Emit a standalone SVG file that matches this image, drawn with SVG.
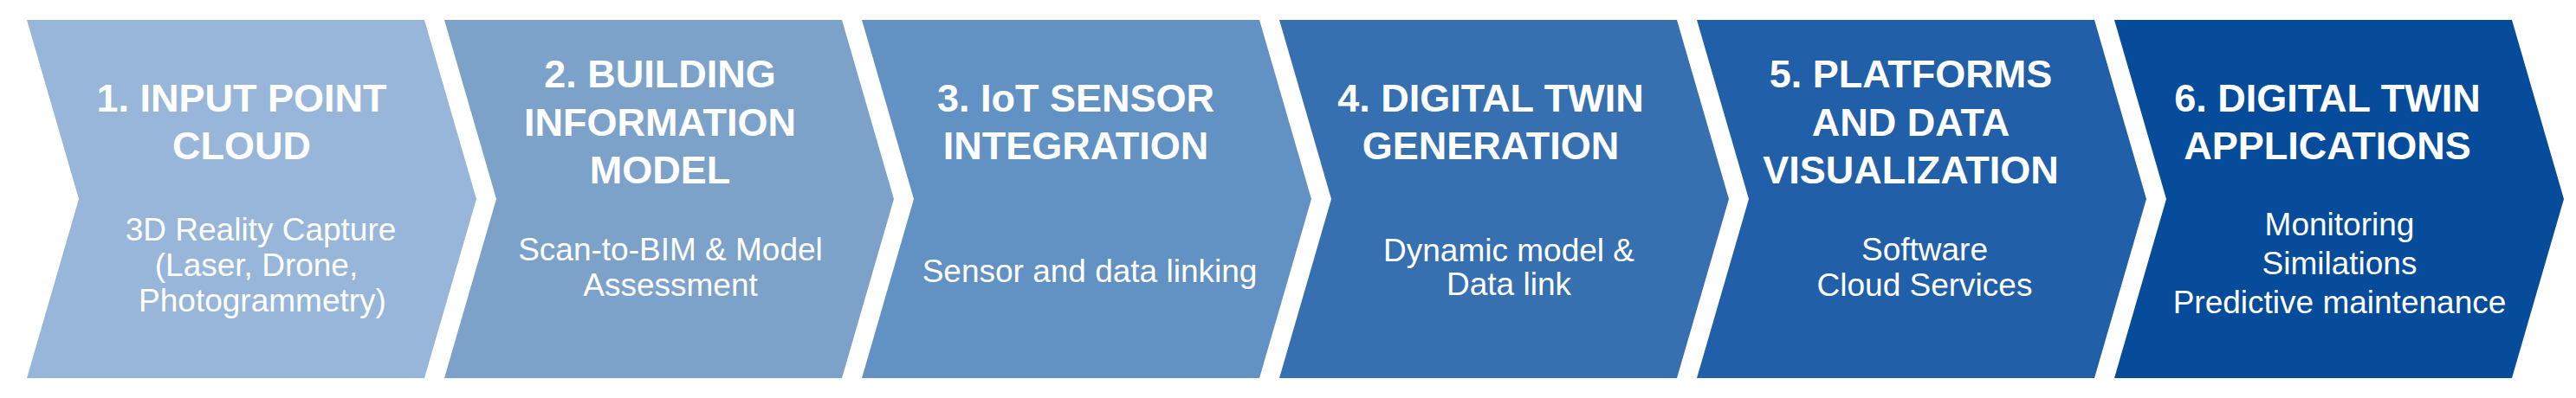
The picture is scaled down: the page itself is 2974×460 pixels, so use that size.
<svg xmlns="http://www.w3.org/2000/svg" width="2974" height="460" viewBox="0 0 2974 460">
<style>
.t{font-family:"Liberation Sans",Arial,sans-serif;font-weight:bold;font-size:45px;fill:#ffffff;text-anchor:middle}
.s{font-family:"Liberation Sans",Arial,sans-serif;font-size:37px;fill:#ffffff;text-anchor:middle}
</style>
<defs>
<polygon id="chev" points="0,23 459,23 519,230 459,437 0,437 60,230"/>
</defs>
<rect width="2974" height="460" fill="#ffffff"/>
<g id="connectors"/>
<g id="step1" transform="translate(31,0)">
<use href="#chev" fill="#98B6D9"/>
<text class="t" x="248" y="129">1. INPUT POINT</text>
<text class="t" x="248" y="184">CLOUD</text>
<text class="s" x="270" y="278">3D Reality Capture</text>
<text class="s" x="265" y="319">(Laser, Drone,</text>
<text class="s" x="272" y="360">Photogrammetry)</text>
</g>
<g id="step2" transform="translate(513,0)">
<use href="#chev" fill="#7DA2CA"/>
<text class="t" x="249" y="101">2. BUILDING</text>
<text class="t" x="249" y="157">INFORMATION</text>
<text class="t" x="249" y="212">MODEL</text>
<text class="s" x="261" y="301">Scan-to-BIM &amp; Model</text>
<text class="s" x="261" y="342">Assessment</text>
</g>
<g id="step3" transform="translate(995,0)">
<use href="#chev" fill="#6291C4"/>
<text class="t" x="247" y="129">3. IoT SENSOR</text>
<text class="t" x="247" y="184">INTEGRATION</text>
<text class="s" x="263" y="326">Sensor and data linking</text>
</g>
<g id="step4" transform="translate(1477,0)">
<use href="#chev" fill="#3770B0"/>
<text class="t" x="244" y="129">4. DIGITAL TWIN</text>
<text class="t" x="244" y="184">GENERATION</text>
<text class="s" x="265" y="302">Dynamic model &amp;</text>
<text class="s" x="265" y="341">Data link</text>
</g>
<g id="step5" transform="translate(1959,0)">
<use href="#chev" fill="#2160A8"/>
<text class="t" x="247" y="101">5. PLATFORMS</text>
<text class="t" x="247" y="157">AND DATA</text>
<text class="t" x="247" y="212">VISUALIZATION</text>
<text class="s" x="263" y="301">Software</text>
<text class="s" x="263" y="342">Cloud Services</text>
</g>
<g id="step6" transform="translate(2441,0)">
<use href="#chev" fill="#064C9B"/>
<text class="t" x="246" y="129">6. DIGITAL TWIN</text>
<text class="t" x="246" y="184">APPLICATIONS</text>
<text class="s" x="260" y="272">Monitoring</text>
<text class="s" x="260" y="317">Similations</text>
<text class="s" x="260" y="362">Predictive maintenance</text>
</g>
</svg>
